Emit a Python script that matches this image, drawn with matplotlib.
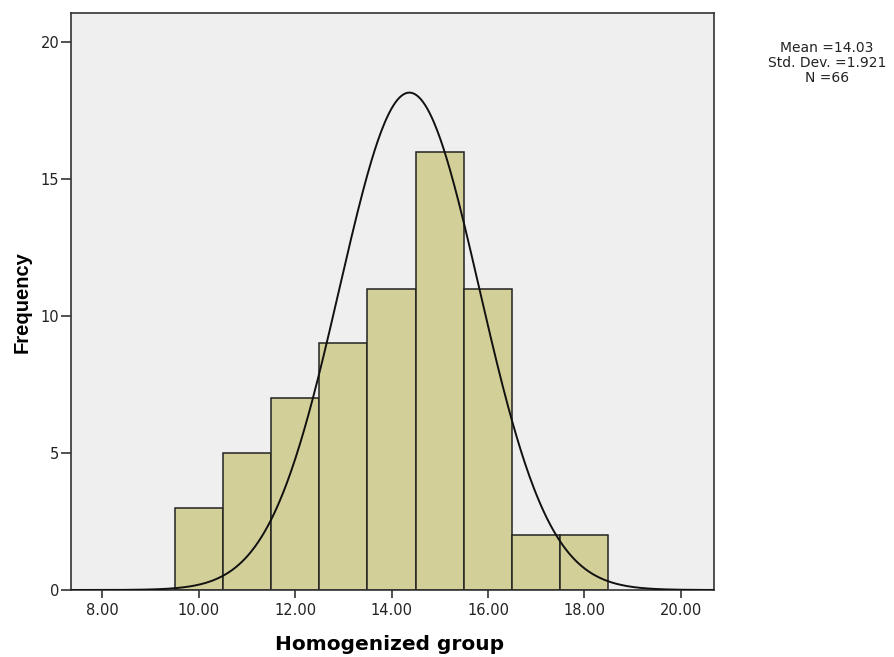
import numpy as np
import matplotlib
matplotlib.use("Agg")
import matplotlib.pyplot as plt

plt.rcParams["font.family"] = ["DejaVu Sans"]

# histogram bins (centres) and frequencies
bin_centers = [10, 11, 12, 13, 14, 15, 16, 17, 18]
counts = [3, 5, 7, 9, 11, 16, 11, 2, 2]
bin_width = 1.0

# normal curve as drawn
curve_mean = 14.37
curve_sd = 1.45
n_total = 66

stats_lines = ["Mean =14.03", "Std. Dev. =1.921", "N =66"]
x_ticks = [8, 10, 12, 14, 16, 18, 20]
y_ticks = [0, 5, 10, 15, 20]

fig = plt.figure(figsize=(8.94, 6.57), dpi=100)
ax = fig.add_axes([0.0794, 0.102, 0.7193, 0.878])
ax.set_facecolor("#efefef")

ax.bar(bin_centers, counts, width=bin_width, color="#d3cf98",
       edgecolor="#222222", linewidth=1.1, zorder=2)

xs = np.linspace(7.35, 20.69, 600)
pdf = n_total * bin_width / (curve_sd * np.sqrt(2 * np.pi)) * \
    np.exp(-0.5 * ((xs - curve_mean) / curve_sd) ** 2)
ax.plot(xs, pdf, color="#111111", linewidth=1.4, zorder=3)

ax.set_xlim(7.35, 20.69)
ax.set_ylim(0, 21.06)
ax.set_xticks(x_ticks)
ax.set_xticklabels([f"{t:.2f}" for t in x_ticks], fontsize=10.5)
ax.set_yticks(y_ticks)
ax.set_yticklabels([str(t) for t in y_ticks], fontsize=10.5)
ax.tick_params(direction="out", width=1.2, color="#333333", labelcolor="#222222")
ax.tick_params(axis="x", length=6, pad=3.5)
ax.tick_params(axis="y", length=7, pad=1.5)
for s in ax.spines.values():
    s.set_color("#333333")
    s.set_linewidth(1.2)

ax.set_xlabel("Homogenized group", fontsize=14.5, fontweight="bold",
              va="baseline")
ax.xaxis.set_label_coords(0.496, -0.104)
ax.set_ylabel("Frequency", fontsize=14.5, fontweight="bold",
              family=["Liberation Sans", "DejaVu Sans"])
ax.yaxis.set_label_coords(-0.0607, 0.5)

fig.text(0.925, 0.904, "\n".join(stats_lines), ha="center", va="center",
         fontsize=10, linespacing=1.12, color="#222222")

fig.savefig("out.png", dpi=100)
